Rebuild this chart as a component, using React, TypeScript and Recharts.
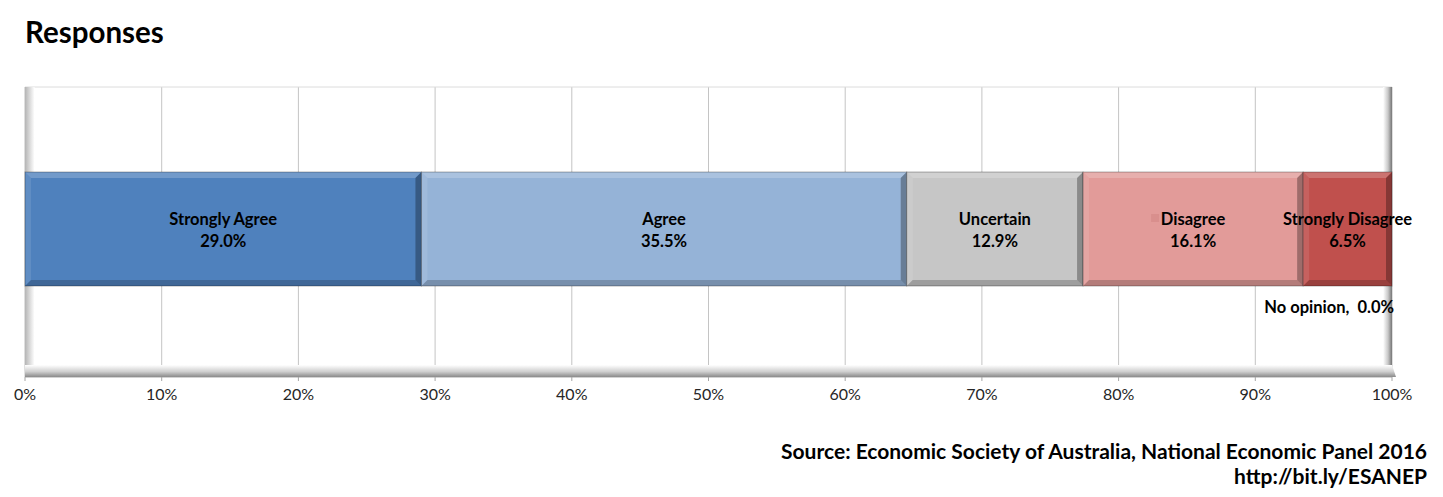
import { Bar, BarChart, CartesianGrid, ReferenceArea, XAxis, YAxis } from 'recharts';

const categories = ['Strongly Agree', 'Agree', 'Uncertain', 'Disagree', 'Strongly Disagree', 'No opinion'];
const shares = [29.0, 35.5, 12.9, 16.1, 6.5, 0.0];
const colors = ['#4f81bd', '#95b3d7', '#c6c6c6', '#e29b99', '#c0504d', '#8064a2'];
const xTicks = [0, 10, 20, 30, 40, 50, 60, 70, 80, 90, 100];

const row: Record<string, string | number> = { name: 'Responses' };
categories.forEach((c, i) => {
    row['s' + i] = shares[i];
});
const data = [row];

const FONT = 'Lato, "Open Sans", sans-serif';

function BevelBar(props: any) {
    const { x, y, width, height, fill } = props;
    if (!width || width <= 0.5) return null;
    const b = Math.min(6, width / 4);
    const r = x + width;
    const btm = y + height;
    return (
        <g>
            <rect x={x} y={y} width={width} height={height} fill={fill} />
            <polygon points={`${x},${y} ${r},${y} ${r - b},${y + b} ${x + b},${y + b}`} fill="#fff" fillOpacity={0.2} />
            <polygon points={`${x},${y} ${x + b},${y + b} ${x + b},${btm - b} ${x},${btm}`} fill="#fff" fillOpacity={0.1} />
            <polygon points={`${x},${btm} ${x + b},${btm - b} ${r - b},${btm - b} ${r},${btm}`} fill="#000" fillOpacity={0.2} />
            <polygon points={`${r},${y} ${r},${btm} ${r - b},${btm - b} ${r - b},${y + b}`} fill="#000" fillOpacity={0.3} />
            <rect x={x} y={y} width={width} height={height} fill="none" stroke="#000" strokeOpacity={0.3} strokeWidth={1} />
        </g>
    );
}

function makeLabel(i: number) {
    return (p: any) => {
        const { x, y, width, height } = p;
        const name = categories[i];
        const pct = shares[i].toFixed(1) + '%';
        if (shares[i] === 0) {
            return (
                <text
                    x={x + width + 2}
                    y={y + height + 27}
                    textAnchor="end"
                    fontFamily={FONT}
                    fontWeight={700}
                    fontSize={16.5}
                    fill="#000"
                    style={{ whiteSpace: 'pre' }}
                >
                    {name + ',  ' + pct}
                </text>
            );
        }
        const cx = x + width / 2;
        const cy = y + height / 2;
        return (
            <g>
                {name === 'Disagree' && <rect x={cx - 42} y={cy - 15} width={8} height={8} fill="#d98f8d" />}
                <text x={cx} y={cy - 4} textAnchor="middle" fontFamily={FONT} fontWeight={700} fontSize={16.5} fill="#000">
                    {name}
                </text>
                <text x={cx} y={cy + 18} textAnchor="middle" fontFamily={FONT} fontWeight={700} fontSize={16.5} fill="#000">
                    {pct}
                </text>
            </g>
        );
    };
}

// 3D floor drawn under the plot, from the x axis' own viewBox
function Floor(p: any) {
    const vb = p.viewBox || {};
    const { x, y, width } = vb;
    if (x === undefined) return null;
    const d = 12;
    return <polygon points={`${x},${y - d} ${x + width},${y - d} ${x + width + 4},${y} ${x},${y}`} fill="url(#floor)" />;
}

export default function App() {
    return (
        <div style={{ position: 'absolute', left: 0, top: 0, width: 1443, height: 497, background: '#fff', fontFamily: FONT }}>
            <div style={{ position: 'absolute', left: 25, top: 14, fontSize: 29.5, fontWeight: 700, color: '#000' }}>Responses</div>
            <BarChart
                width={1443}
                height={497}
                data={data}
                layout="vertical"
                margin={{ top: 87, right: 51, bottom: 90, left: 25 }}
            >
                <defs>
                    <linearGradient id="leftWall" x1="0" y1="0" x2="1" y2="0">
                        <stop offset="0%" stopColor="#b5b5b5" />
                        <stop offset="100%" stopColor="#ffffff" />
                    </linearGradient>
                    <linearGradient id="rightWall" x1="0" y1="0" x2="1" y2="0">
                        <stop offset="0%" stopColor="#ffffff" />
                        <stop offset="55%" stopColor="#c8c8c8" />
                        <stop offset="100%" stopColor="#767676" />
                    </linearGradient>
                    <linearGradient id="floor" x1="0" y1="0" x2="0" y2="1">
                        <stop offset="0%" stopColor="#ffffff" />
                        <stop offset="55%" stopColor="#cfcfcf" />
                        <stop offset="100%" stopColor="#8a8a8a" />
                    </linearGradient>
                </defs>
                <CartesianGrid horizontal={false} stroke="#c4c4c4" />
                <ReferenceArea x1={0} x2={100} fill="none" stroke="#dcdcdc" strokeWidth={1} />
                <ReferenceArea x1={0} x2={0.7} fill="url(#leftWall)" fillOpacity={1} stroke="none" />
                <ReferenceArea x1={99.35} x2={100} fill="url(#rightWall)" fillOpacity={1} stroke="none" />
                <XAxis
                    type="number"
                    domain={[0, 100]}
                    ticks={xTicks}
                    tickFormatter={(v) => v + '%'}
                    interval={0}
                    height={30}
                    tickSize={4}
                    tickMargin={8}
                    axisLine={{ stroke: '#a6a6a6' }}
                    tickLine={{ stroke: '#a6a6a6' }}
                    tick={{ fontSize: 16, fill: '#262626', fontFamily: FONT }}
                    label={<Floor />}
                />
                <YAxis type="category" dataKey="name" hide padding={{ top: 0, bottom: 6 }} />
                {categories.map((c, i) => (
                    <Bar
                        key={c}
                        dataKey={'s' + i}
                        name={c}
                        stackId="a"
                        fill={colors[i]}
                        barSize={114}
                        isAnimationActive={false}
                        shape={(p: any) => <BevelBar {...p} fill={colors[i]} />}
                        label={makeLabel(i)}
                    />
                ))}
            </BarChart>
            <div style={{ position: 'absolute', right: 16, top: 438, fontSize: 21, fontWeight: 700, color: '#000', textAlign: 'right', lineHeight: '25px' }}>
                <div>Source: Economic Society of Australia, National Economic Panel 2016</div>
                <div>http://bit.ly/ESANEP</div>
            </div>
        </div>
    );
}
